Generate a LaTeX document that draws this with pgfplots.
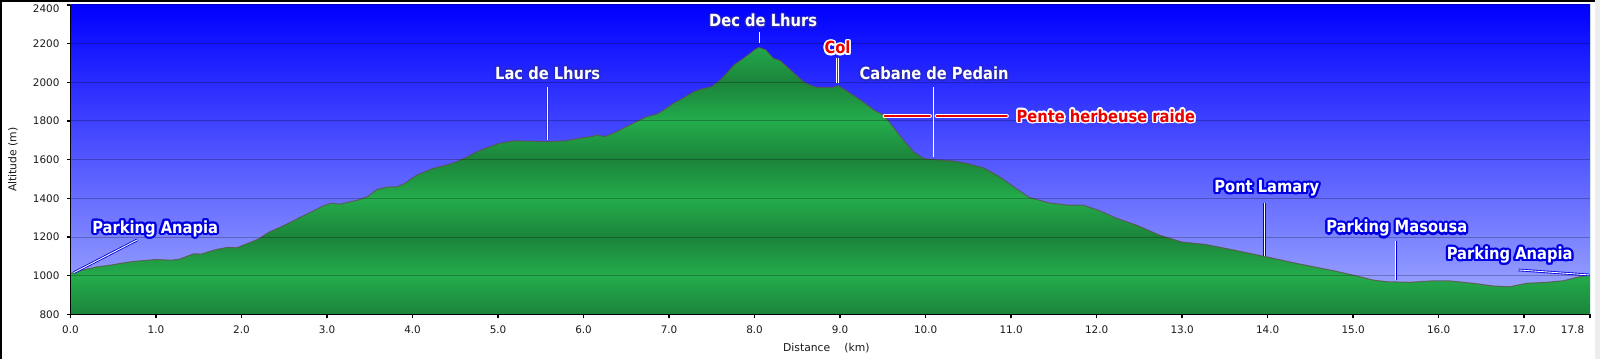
\documentclass[border=0pt]{standalone}
\usepackage{fontspec}
\setmainfont{DejaVu Sans}[FakeStretch=0.88]
\newfontfamily\vf{DejaVu Sans}
\usepackage{pgfplots}
\usepackage{pgfplotstable}
\pgfplotsset{compat=1.18}

\definecolor{skytop}{RGB}{0,0,255}
\definecolor{skybot}{RGB}{165,175,255}
\definecolor{gL}{RGB}{36,172,76}
\definecolor{gD}{RGB}{27,132,58}
\definecolor{lblue}{RGB}{0,0,225}
\definecolor{lred}{RGB}{235,0,0}
\definecolor{glow}{RGB}{40,40,190}
\definecolor{outl}{RGB}{95,80,70}

\pgfdeclareverticalshading{bands}{100bp}{color(0bp)=(gD); color(25bp)=(gD); color(32.246bp)=(gL); color(39.493bp)=(gD); color(46.739bp)=(gL); color(53.986bp)=(gD); color(61.232bp)=(gL); color(68.478bp)=(gD); color(75.725bp)=(gL); color(100bp)=(gL)}

\pgfplotstableread{
km elev
0.00 1012
0.15 1030
0.30 1045
0.47 1055
0.60 1065
0.74 1074
0.90 1080
1.00 1084
1.10 1082
1.18 1080
1.28 1086
1.36 1100
1.44 1113
1.53 1112
1.60 1122
1.70 1135
1.84 1147
1.95 1145
2.10 1172
2.20 1190
2.32 1225
2.45 1250
2.58 1278
2.70 1305
2.84 1335
2.95 1360
3.05 1375
3.15 1370
3.25 1380
3.37 1392
3.48 1410
3.58 1445
3.70 1458
3.82 1460
3.90 1475
4.05 1520
4.24 1555
4.40 1572
4.52 1590
4.63 1612
4.75 1640
4.88 1663
5.02 1685
5.18 1697
5.35 1696
5.57 1693
5.80 1698
6.00 1714
6.10 1720
6.16 1728
6.25 1719
6.39 1745
6.50 1770
6.58 1788
6.74 1822
6.86 1836
6.95 1860
7.05 1891
7.18 1922
7.29 1952
7.38 1965
7.50 1978
7.60 2012
7.68 2050
7.76 2090
7.87 2124
7.95 2150
8.00 2168
8.05 2180
8.13 2168
8.22 2124
8.30 2112
8.42 2064
8.57 2003
8.65 1985
8.73 1974
8.92 1974
8.98 1983
9.12 1943
9.25 1905
9.32 1882
9.40 1856
9.51 1830
9.61 1775
9.71 1718
9.86 1640
9.98 1606
10.10 1600
10.33 1593
10.49 1580
10.68 1557
10.86 1513
11.04 1457
11.21 1405
11.44 1377
11.66 1365
11.84 1365
12.02 1339
12.24 1296
12.47 1261
12.74 1209
13.00 1174
13.27 1162
13.59 1134
13.97 1099
14.38 1060
14.77 1026
15.00 1003
15.23 978
15.39 969
15.66 966
15.94 974
16.13 973
16.40 961
16.64 947
16.83 943
17.03 961
17.26 966
17.46 974
17.65 995
17.77 1003
}\profile

\newcommand{\lf}{\fontsize{8.35}{10}\selectfont\bfseries}
\newcommand{\tf}{\vf\fontsize{5.2}{6.2}\selectfont}
\newcommand{\af}{\vf\fontsize{5.4}{6.5}\selectfont}
\newcommand{\haloR}{1pt}
% #1 node options, #2 coordinate, #3 text colour, #4 halo style, #5 text
\newcommand{\halo}[5]{%
  \foreach \a in {0,22.5,...,337.5}{\node[inner sep=0pt,font=\lf,#1,#4] at ([shift={(\a:\haloR)}]#2) {#5};}%
  \node[inner sep=0pt,font=\lf,#1,text=#3] at (#2) {#5};}

\begin{document}
\begin{tikzpicture}
\path[use as bounding box] (0,0) rectangle (800pt,179.5pt);
\begin{axis}[
  at={(35.25pt,22.3pt)}, anchor=south west,
  scale only axis, width=759.75pt, height=154.75pt,
  xmin=0, xmax=17.77, ymin=800, ymax=2400,
  axis background/.style={shade, top color=skytop, bottom color=skybot},
  axis x line*=bottom, axis y line*=left,
  axis line style={black, line width=0.9pt},
  xtick={0,1,...,17}, ytick={800,1000,...,2200},
  extra x ticks={17.77}, extra x tick labels={17.8},
  extra x tick style={tick label style={anchor=north east, xshift=0.6pt}},
  extra y ticks={2400},
  extra y tick style={tick label style={yshift=-2pt}},
  tick align=outside, major tick length=2pt,
  tick style={black, line width=0.7pt},
  ymajorgrids, grid style={black, opacity=0.25, line width=0.5pt},
  axis on top,
  scaled x ticks=false, scaled y ticks=false,
  tick label style={font=\tf, text=black!90},
  x tick label style={/pgf/number format/fixed, /pgf/number format/fixed zerofill, /pgf/number format/precision=1},
  y tick label style={/pgf/number format/1000 sep={}},
  /pgf/number format/assume math mode=true,
  xlabel={Distance\hspace{7pt}(km)},
  ylabel={Altitude (m)},
  every axis x label/.style={at={(axis description cs:0.4974,-0.1076)}, anchor=center, font=\af, text=black!90},
  every axis y label/.style={at={(axis description cs:-0.0378,0.5)}, anchor=center, rotate=90, font=\af, text=black!90},
  no markers,
]
\addplot[draw=none, shade, shading=bands] table[x=km,y=elev]{\profile} -- (axis cs:17.77,800) -- (axis cs:0,800) -- cycle;
\addplot[draw=outl, draw opacity=0.75, line width=0.5pt] table[x=km,y=elev]{\profile};
\draw[color=gL, line width=0.5pt] (rel axis cs:1,0) -- (rel axis cs:1,1);

\coordinate (pa1) at (axis cs:0.99,1242);
\coordinate (pa1a) at (axis cs:0.04,1016);
\coordinate (pa1b) at (axis cs:0.78,1185);
\coordinate (lac) at (axis cs:5.58,2049);
\coordinate (laca) at (axis cs:5.58,1976);
\coordinate (lacb) at (axis cs:5.58,1702);
\coordinate (dec) at (axis cs:8.10,2319);
\coordinate (deca) at (axis cs:8.054,2260);
\coordinate (decb) at (axis cs:8.054,2203);
\coordinate (col) at (axis cs:8.97,2179);
\coordinate (cola) at (axis cs:8.97,2126);
\coordinate (colb) at (axis cs:8.97,1998);
\coordinate (cab) at (axis cs:10.1,2044);
\coordinate (caba) at (axis cs:10.09,1974);
\coordinate (cabb) at (axis cs:10.09,1615);
\coordinate (pen) at (axis cs:11.06,1826);
\coordinate (pena) at (axis cs:9.52,1826);
\coordinate (penb) at (axis cs:10.05,1826);
\coordinate (penc) at (axis cs:10.13,1826);
\coordinate (pend) at (axis cs:10.95,1826);
\coordinate (pon) at (axis cs:13.99,1452);
\coordinate (pona) at (axis cs:13.96,1374);
\coordinate (ponb) at (axis cs:13.96,1102);
\coordinate (mas) at (axis cs:15.51,1245);
\coordinate (masa) at (axis cs:15.50,1180);
\coordinate (masb) at (axis cs:15.50,978);
\coordinate (pa2) at (axis cs:16.83,1107);
\coordinate (pa2a) at (axis cs:16.93,1030);
\coordinate (pa2b) at (axis cs:17.76,1004);
\end{axis}

% frame
\draw[black, line width=0.8pt] (0.4pt,0) -- (0.4pt,179.5pt);
\draw[black, line width=0.8pt] (0,179.1pt) -- (797.5pt,179.1pt);
\fill[black!7] (797.5pt,0) rectangle (800pt,179.5pt);

% leader lines
\draw[lblue, line width=1.3pt] (pa1a) -- (pa1b);
\draw[white, line width=0.45pt] (pa1a) -- (pa1b);
\draw[lblue, line width=1.3pt] (pa2a) -- (pa2b);
\draw[white, line width=0.45pt] (pa2a) -- (pa2b);
\draw[glow, opacity=0.6, line width=1.6pt] (laca) -- (lacb);
\draw[white, line width=0.6pt] (laca) -- (lacb);
\draw[white, line width=0.5pt] (deca) -- (decb);
\draw[white, line width=1.6pt] (cola) -- (colb);
\draw[lred, line width=0.9pt] (cola) -- (colb);
\draw[white, line width=0.5pt] (caba) -- (cabb);
\draw[white, line width=2pt, line cap=round] (pena) -- (penb) (penc) -- (pend);
\draw[lred, line width=1.1pt, line cap=round] (pena) -- (penb) (penc) -- (pend);
\draw[lblue, line width=1.35pt] (pona) -- (ponb);
\draw[white, line width=0.5pt] (pona) -- (ponb);
\draw[lblue, line width=1.35pt] (masa) -- (masb);
\draw[white, line width=0.5pt] (masa) -- (masb);

% labels
\renewcommand{\haloR}{1.1pt}
\halo{}{pa1}{white}{text=lblue}{Parking Anapia}
\halo{}{pon}{white}{text=lblue}{Pont Lamary}
\halo{}{mas}{white}{text=lblue}{Parking Masousa}
\halo{}{pa2}{white}{text=lblue}{Parking Anapia}
\renewcommand{\haloR}{0.8pt}
\halo{}{lac}{white}{text=glow, text opacity=0.3}{Lac de Lhurs}
\halo{}{dec}{white}{text=glow, text opacity=0.3}{Dec de Lhurs}
\halo{}{cab}{white}{text=glow, text opacity=0.3}{Cabane de Pedain}
\halo{}{col}{lred}{text=white}{Col}
\halo{anchor=west}{pen}{lred}{text=white}{Pente herbeuse raide}
\end{tikzpicture}
\end{document}
